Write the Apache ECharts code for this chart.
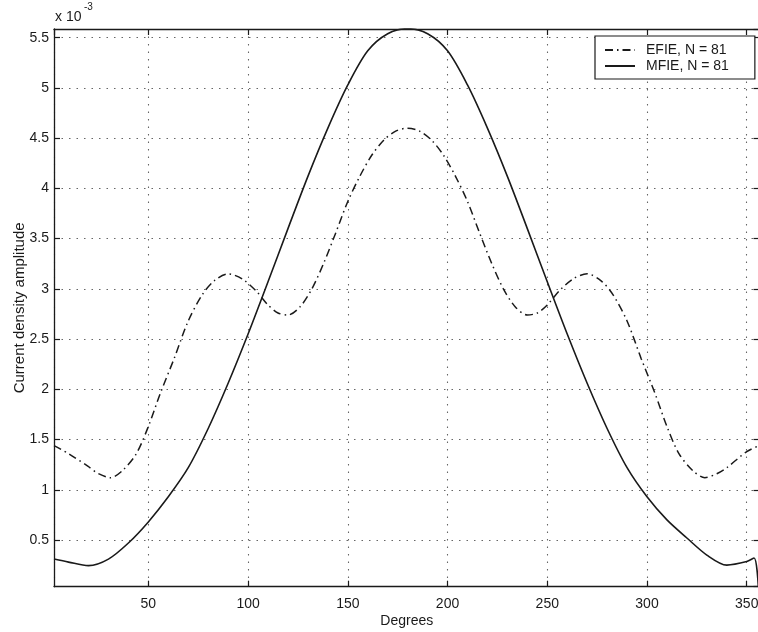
<!DOCTYPE html>
<html>
<head>
<meta charset="utf-8">
<script src="https://cdn.jsdelivr.net/npm/echarts@6/dist/echarts.min.js"></script>
<style>
  html, body { margin: 0; padding: 0; background: #ffffff; }
  #chart { width: 758px; height: 632px; }
</style>
</head>
<body>
<div id="chart"></div>
<script>
// ---- Data (angles in degrees, amplitudes in units of 1e-3) ----
const xTicks = [50, 100, 150, 200, 250, 300, 350];
const yTicks = [0.5, 1, 1.5, 2, 2.5, 3, 3.5, 4, 4.5, 5, 5.5];

const efieDeg = [2.7, 10, 20, 25, 31, 37, 44, 50, 56, 63, 70, 77, 83, 90, 97, 104, 110, 115, 120, 126, 132, 138, 144, 150, 156, 162, 168, 174, 180,
  186, 192, 198, 204, 210, 216, 222, 228, 234, 240, 245, 250, 256, 263, 270, 277, 283, 290, 297, 304, 310, 316, 323, 329, 335, 340, 350, 356.4];
const efieAmp = [1.44, 1.36, 1.23, 1.16, 1.12, 1.19, 1.36, 1.63, 1.96, 2.31, 2.68, 2.94, 3.08, 3.15, 3.10, 2.98, 2.84, 2.76, 2.74, 2.82, 3.00, 3.26, 3.56, 3.87, 4.12, 4.33, 4.48, 4.57, 4.60,
  4.57, 4.48, 4.33, 4.12, 3.87, 3.56, 3.26, 3.00, 2.82, 2.74, 2.76, 2.84, 2.98, 3.10, 3.15, 3.08, 2.94, 2.68, 2.31, 1.96, 1.63, 1.36, 1.19, 1.12, 1.16, 1.22, 1.38, 1.44];

const mfieDeg = [2.7, 10, 20, 30, 40, 50, 60, 70, 80, 90, 100, 110, 120, 130, 140, 150, 160, 170, 180,
  190, 200, 210, 220, 230, 240, 250, 260, 270, 280, 290, 300, 310, 320, 330, 340, 350, 353.7, 355.8];
const mfieAmp = [0.31, 0.28, 0.245, 0.31, 0.47, 0.68, 0.93, 1.22, 1.61, 2.06, 2.55, 3.07, 3.60, 4.12, 4.60, 5.03, 5.37, 5.54, 5.59,
  5.54, 5.37, 5.03, 4.60, 4.12, 3.60, 3.07, 2.55, 2.06, 1.61, 1.22, 0.93, 0.70, 0.52, 0.35, 0.25, 0.285, 0.32, 0.04];

const seriesNames = ['EFIE, N = 81', 'MFIE, N = 81'];
const xName = 'Degrees';
const yName = 'Current density amplitude';
const xRange = [2.7, 356.4];
const yRange = [0.035, 5.587];

// ---- Build ----
const FONT = '"Liberation Sans", Arial, Helvetica, sans-serif';
const INK = '#1a1a1a';
const pair = (xs, ys) => xs.map((x, i) => [x, ys[i]]);

const chart = echarts.init(document.getElementById('chart'), null, { renderer: 'canvas' });

const baseAxisLine = { show: true, onZero: false, lineStyle: { color: INK, width: 1.3 } };
const baseTick = { show: true, inside: true, length: 6, lineStyle: { color: INK, width: 1.2 } };
const gridDot = { show: true, lineStyle: { color: '#666', width: 1.1, type: [1.5, 6] } };

const xStep = xTicks[1] - xTicks[0];
const yStep = yTicks[1] - yTicks[0];

chart.setOption({
  backgroundColor: '#ffffff',
  animation: false,
  grid: { left: 54, right: -1.5, top: 29, bottom: 45.3, containLabel: false, outerBoundsMode: 'none' },
  legend: {
    data: seriesNames,
    orient: 'vertical',
    left: 595, top: 36,
    itemWidth: 30, itemHeight: 10, itemGap: 2,
    padding: [7, 26, 6, 9],
    borderColor: INK, borderWidth: 1.2, backgroundColor: '#ffffff',
    itemStyle: { opacity: 0 },
    textStyle: { fontFamily: FONT, fontSize: 14, lineHeight: 14, color: INK, padding: [0, 0, 0, 6] },
    selectedMode: false
  },
  xAxis: [
    {
      type: 'value', position: 'bottom',
      min: xRange[0], max: xRange[1],
      minInterval: xStep, maxInterval: xStep, splitNumber: 7,
      name: xName, nameLocation: 'middle', nameGap: 27, nameMoveOverlap: false,
      nameTextStyle: { fontFamily: FONT, fontSize: 14, color: INK },
      axisLine: baseAxisLine, axisTick: baseTick,
      axisLabel: { fontFamily: FONT, fontSize: 14, color: INK, margin: 10, showMinLabel: false, showMaxLabel: false },
      splitLine: gridDot
    },
    {
      type: 'value', position: 'top',
      min: xRange[0], max: xRange[1],
      minInterval: xStep, maxInterval: xStep, splitNumber: 7,
      axisLine: baseAxisLine, axisTick: baseTick,
      axisLabel: { show: false }, splitLine: { show: false }
    }
  ],
  yAxis: [
    {
      type: 'value', position: 'left',
      min: yRange[0], max: yRange[1],
      minInterval: yStep, maxInterval: yStep, splitNumber: 11,
      name: yName, nameLocation: 'middle', nameGap: 27, nameRotate: 90, nameMoveOverlap: false,
      nameTextStyle: { fontFamily: FONT, fontSize: 15, color: INK },
      axisLine: baseAxisLine, axisTick: baseTick,
      axisLabel: { fontFamily: FONT, fontSize: 14, color: INK, margin: 5, showMinLabel: false, showMaxLabel: false },
      splitLine: gridDot
    },
    {
      type: 'value', position: 'right',
      min: yRange[0], max: yRange[1],
      minInterval: yStep, maxInterval: yStep, splitNumber: 11,
      axisLine: baseAxisLine, axisTick: baseTick,
      axisLabel: { show: false }, splitLine: { show: false }
    }
  ],
  graphic: [
    { type: 'text', left: 55, top: 10, style: { text: 'x 10', font: '14px ' + FONT, fill: INK } },
    { type: 'text', left: 84, top: 2, style: { text: '-3', font: '10px ' + FONT, fill: INK } }
  ],
  series: [
    {
      name: seriesNames[0], type: 'line',
      data: pair(efieDeg, efieAmp),
      showSymbol: false, symbol: 'none',
      smooth: 0.3,
      lineStyle: { color: INK, width: 1.5, type: [8, 4, 1.5, 4] },
      itemStyle: { color: INK },
      z: 3
    },
    {
      name: seriesNames[1], type: 'line',
      data: pair(mfieDeg, mfieAmp),
      showSymbol: false, symbol: 'none',
      smooth: 0.3,
      lineStyle: { color: INK, width: 1.6, type: 'solid' },
      itemStyle: { color: INK },
      z: 3
    }
  ]
});
</script>
</body>
</html>
